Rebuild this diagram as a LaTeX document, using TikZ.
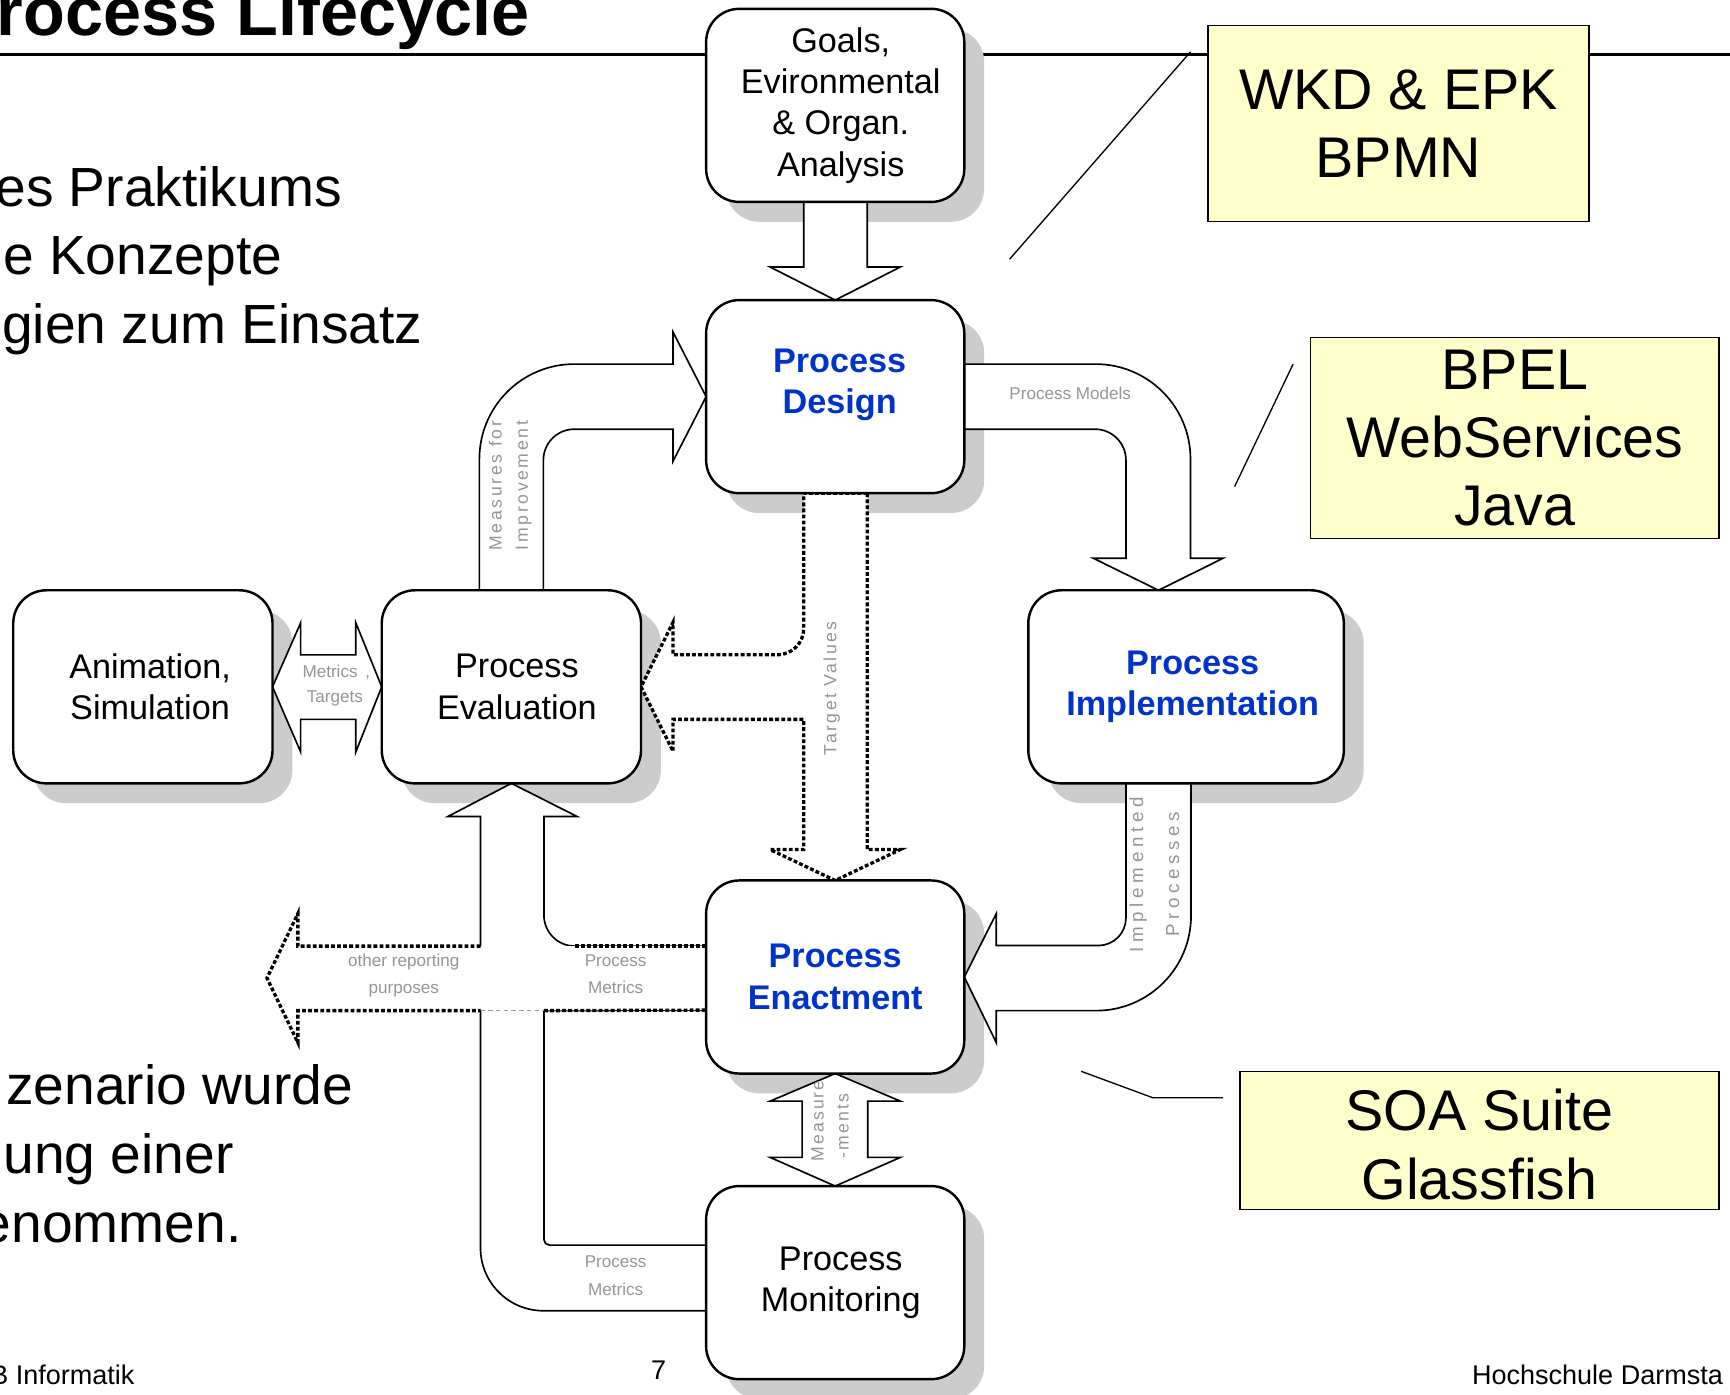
\documentclass[tikz,border=0pt]{standalone}
\usepackage{fontspec}
\setmainfont{Liberation Sans}
\newfontfamily\spacedA[LetterSpace=15]{Liberation Sans}
\newfontfamily\spacedB[LetterSpace=25]{Liberation Sans}
\newfontfamily\spacedC[LetterSpace=14]{Liberation Sans}
\newfontfamily\spacedD[LetterSpace=12]{Liberation Sans}
\usetikzlibrary{calc}

\definecolor{procblue}{RGB}{0,51,204}
\definecolor{notegray}{RGB}{150,150,150}
\definecolor{shadowgray}{RGB}{204,204,204}
\definecolor{noteyellow}{RGB}{255,255,204}

% left padding of a centred line inside a phase box
\newcommand\lpad[1]{\hspace*{#1}}

\pgfdeclarelayer{backlayer}
\pgfdeclarelayer{shadowlayer}
\pgfdeclarelayer{arrowlayer}
\pgfsetlayers{backlayer,shadowlayer,arrowlayer,main}

\begin{document}
\begin{tikzpicture}[x=1pt,y=-1pt,
  procbox/.style={draw, line width=2.2pt, fill=white, rounded corners=30pt,
    minimum width=234pt, minimum height=175pt, inner sep=0pt, outer sep=0pt,
    align=center, font=\fontsize{31}{37.5}\selectfont},
  hot/.style={text=procblue, font=\bfseries\fontsize{31}{37.5}\selectfont},
  techbox/.style={draw, line width=1.3pt, fill=noteyellow, inner sep=0pt,
    outer sep=0pt, align=center, font=\fontsize{52}{62}\selectfont},
  fat/.style={draw, line width=1.5pt, fill=white, line join=miter},
  dotline/.style={line width=3pt, line cap=butt, dash pattern=on 3.5pt off 2pt},
  note/.style={text=notegray, inner sep=0pt, font=\fontsize{15.5}{24.5}\selectfont},
  callout/.style={line width=1.2pt},
  bigtext/.style={inner sep=0pt, anchor=base east, font=\fontsize{50}{62}\selectfont},
  foot/.style={inner sep=0pt, font=\fontsize{24.5}{28}\selectfont},
]
\useasboundingbox (0,0) rectangle (1568,1264);
\clip (0,0) rectangle (1568,1264);

% slide title and rule
\node[inner sep=0pt, anchor=base east, font=\bfseries\fontsize{62}{70}\selectfont]
  (title) at (480,32) {rocess Lifecycle};
\begin{pgfonlayer}{backlayer}
  \draw[line width=2.4pt] (0,49.5) -- (1568,49.5);
\end{pgfonlayer}

% body text
\node[bigtext] (t1) at (310,187) {es Praktikums};
\node[bigtext] (t2) at (256,249) {e Konzepte};
\node[bigtext] (t3) at (383,311) {gien zum Einsatz};
\node[bigtext] (t4) at (320,1001) {zenario wurde};
\node[bigtext] (t5) at (212,1064) {ung einer};
\node[bigtext] (t6) at (219,1126) {enommen.};

% footer
\node[foot, anchor=base west] (fb) at (-9,1255) {B Informatik};
\node[foot, anchor=base] (page) at (597,1250) {7};
\node[foot, anchor=base west] (hs) at (1334,1255) {Hochschule Darmsta};

% lifecycle phases
\node[procbox] (goals) at (757,95.5)
  {\lpad{10pt}Goals,\\\lpad{10pt}Evironmental\\\lpad{10pt}\& Organ.\\\lpad{10pt}Analysis};
\node[procbox, hot, text depth=28.5pt] (design) at (757,359.5)
  {\lpad{8pt}Process\\\lpad{8pt}Design};
\node[procbox, hot, minimum width=286pt] (impl) at (1075,622.5)
  {\lpad{12pt}Process\\\lpad{12pt}Implementation};
\node[procbox, minimum width=235pt] (anim) at (129.5,622.5)
  {\lpad{13pt}Animation,\\\lpad{13pt}Simulation};
\node[procbox, minimum width=235pt] (eval) at (463.5,622.5)
  {\lpad{10pt}Process\\\lpad{10pt}Evaluation};
\node[procbox, hot] (enact) at (757,885.5) {Process\\Enactment};
\node[procbox] (monit) at (757,1162.5)
  {\lpad{10pt}Process\\\lpad{10pt}Monitoring};

% technology notes
\node[techbox, minimum width=345pt, minimum height=178pt] (wkd) at (1267.5,112) {WKD \& EPK\\BPMN};
\node[techbox, minimum width=370pt, minimum height=182pt] (bpel) at (1373,397) {BPEL\\WebServices\\Java};
\node[techbox, minimum width=434pt, minimum height=125pt, text height=107pt] (soa) at (1341,1033.5) {SOA Suite\\Glassfish};

\coordinate (wkdA) at (1079,47);  \coordinate (wkdB) at (915,235);
\coordinate (bpelA) at (1172,330); \coordinate (bpelB) at (1119,441);
\coordinate (soaA) at (1108.5,995); \coordinate (soaK) at (1045,995); \coordinate (soaB) at (980,971);
\draw[callout] (wkdA) -- (wkdB);
\draw[callout] (bpelA) -- (bpelB);
\draw[callout] (soaA) -- (soaK) -- (soaB);

% drop shadows
\begin{pgfonlayer}{shadowlayer}
  \foreach \n in {goals,design,impl,anim,eval,enact,monit}
    \fill[shadowgray, rounded corners=30pt]
      ([shift={(18,18)}]\n.north west) rectangle ([shift={(18,18)}]\n.south east);
\end{pgfonlayer}

% block arrows
\coordinate (report) at (242,886.5);
\begin{pgfonlayer}{arrowlayer}
  % goals -> design
  \draw[fat] ([xshift=-28.5pt]goals.south) -- ++(0,59) -- ++(-30.5,0) -- (design.north)
    -- ++(59,-30) -- ++(-30,0) -- ([xshift=29pt]goals.south) -- cycle;
  % evaluation -> design (measures for improvement)
  \draw[fat] ([xshift=-29pt]eval.north) -- (434.5,416) arc[start angle=180,end angle=270,radius=86]
    -- (610,330) -- (610,301) -- (design.west) -- (610,418) -- (610,389)
    -- (520.5,389) arc[start angle=270,end angle=180,radius=28]
    -- ([xshift=29pt]eval.north) -- cycle;
  % design -> implementation (process models)
  \draw[fat] ([yshift=29.5pt]design.east) -- (993,330) arc[start angle=270,end angle=360,radius=86]
    -- (1079,506) -- (1108.5,506) -- ([xshift=-25pt]impl.north) -- (991,506) -- (1020.5,506)
    -- (1020.5,417) arc[start angle=0,end angle=-90,radius=28]
    -- ([yshift=-29.5pt]design.east) -- cycle;
  % implementation -> enactment (implemented processes)
  \draw[fat] ([xshift=4.5pt]impl.south) -- (1079.5,830) arc[start angle=0,end angle=90,radius=86]
    -- (903,916) -- (903,945) -- (enact.east) -- (903,828) -- (903,857)
    -- (995.5,857) arc[start angle=90,end angle=0,radius=25]
    -- ([xshift=-54.5pt]impl.south) -- cycle;
  % design -> enactment / evaluation (target values)
  \draw[fat, dotline] ([xshift=29pt]design.south) -- (786,770) -- (816,770) -- (enact.north)
    -- (698,770) -- (728.5,770) -- (728.5,652) -- (610,652) -- (610,681) -- (eval.east)
    -- (610,564) -- (610,593.5) -- (704.5,593.5) arc[start angle=90,end angle=0,radius=24]
    -- ([xshift=-28.5pt]design.south) -- cycle;
  % animation <-> evaluation
  \draw[fat] (anim.east) -- (272.5,564.5) -- (272.5,593.5) -- (322.5,593.5) -- (322.5,564.5)
    -- (eval.west) -- (322.5,681.5) -- (322.5,652) -- (272.5,652) -- (272.5,681.5) -- cycle;
  % enactment <-> monitoring
  \draw[fat] (enact.south) -- (816,998) -- (786.5,998) -- (786.5,1049) -- (816,1049)
    -- (monit.north) -- (698,1049) -- (727,1049) -- (727,998) -- (698,998) -- cycle;
  \begin{scope}
    \clip (enact.south) -- (816,998) -- (786.5,998) -- (786.5,1049) -- (816,1049)
      -- (monit.north) -- (698,1049) -- (727,1049) -- (727,998) -- (698,998) -- cycle;
    \node[note, font=\spacedD\fontsize{16}{18}\selectfont, rotate=90, anchor=west] (lmeas1) at (741,1053) {Measure};
    \node[note, font=\spacedD\fontsize{16}{18}\selectfont, rotate=90, anchor=west] (lmeas2) at (764,1050) {-ments};
  \end{scope}
  % monitoring / enactment -> evaluation (process metrics)
  \draw[fat] ([yshift=-25.5pt]monit.west) -- (492.5,1188) arc[start angle=90,end angle=180,radius=57]
    -- (435.5,740) -- (406,740) -- (eval.south) -- (523,740) -- (493,740)
    -- (493,829.5) arc[start angle=180,end angle=90,radius=28]
    -- ([yshift=28pt]enact.west) -- ([yshift=-30pt]enact.west) -- (493,916)
    -- (493,1123.5) arc[start angle=180,end angle=90,radius=5]
    -- ([yshift=34pt]monit.west) -- cycle;
  % enactment -> other reporting purposes
  \fill[white] ([yshift=28pt]enact.west) -- (270,857.5) -- (270,828) -- (report)
    -- (270,945) -- (270,916) -- ([yshift=-30pt]enact.west) -- cycle;
  \draw[dotline] (435.5,857.5) -- (270,857.5) -- (270,828) -- (report) -- (270,945)
    -- (270,916) -- (435.5,916);
  \draw[dotline] (521,857.5) -- ([yshift=28pt]enact.west);
  \draw[dotline] (493,916) -- ([yshift=-30pt]enact.west);
  \draw[notegray, line width=0.8pt, dash pattern=on 4pt off 3pt] (435.5,916) -- (493,916);
\end{pgfonlayer}

% arrow captions
\node[note, anchor=base] (lmodels) at (970,362) {Process Models};
\node[note, anchor=base west] (lmetrics) at (274,614) {Metrics\hspace{7pt},};
\node[note, anchor=base] (ltargets) at (303.5,637) {Targets};
\node[note, anchor=base] (lother1) at (366,876) {other reporting};
\node[note, anchor=base] (lother2) at (366,900) {purposes};
\node[note, anchor=base] (lpm1) at (558,876) {Process};
\node[note, anchor=base] (lpm2) at (558,900) {Metrics};
\node[note, anchor=base] (lpm3) at (558,1149) {Process};
\node[note, anchor=base] (lpm4) at (558,1174) {Metrics};
\node[note, font=\spacedA\fontsize{16}{18}\selectfont, rotate=90, anchor=west] (lmeasures) at (449,499) {Measures for};
\node[note, font=\spacedA\fontsize{16}{18}\selectfont, rotate=90, anchor=west] (limprove) at (474.5,499) {Improvement};
\node[note, font=\spacedC\fontsize{16}{18}\selectfont, rotate=90, anchor=west] (ltarget) at (754,684.5) {Target Values};
\node[note, font=\spacedB\fontsize{17}{18}\selectfont, rotate=90] (limpl) at (1031.6,793) {Implemented};
\node[note, font=\spacedB\fontsize{17}{18}\selectfont, rotate=90] (lproc) at (1063,792.5) {Processes};
\end{tikzpicture}
\end{document}
